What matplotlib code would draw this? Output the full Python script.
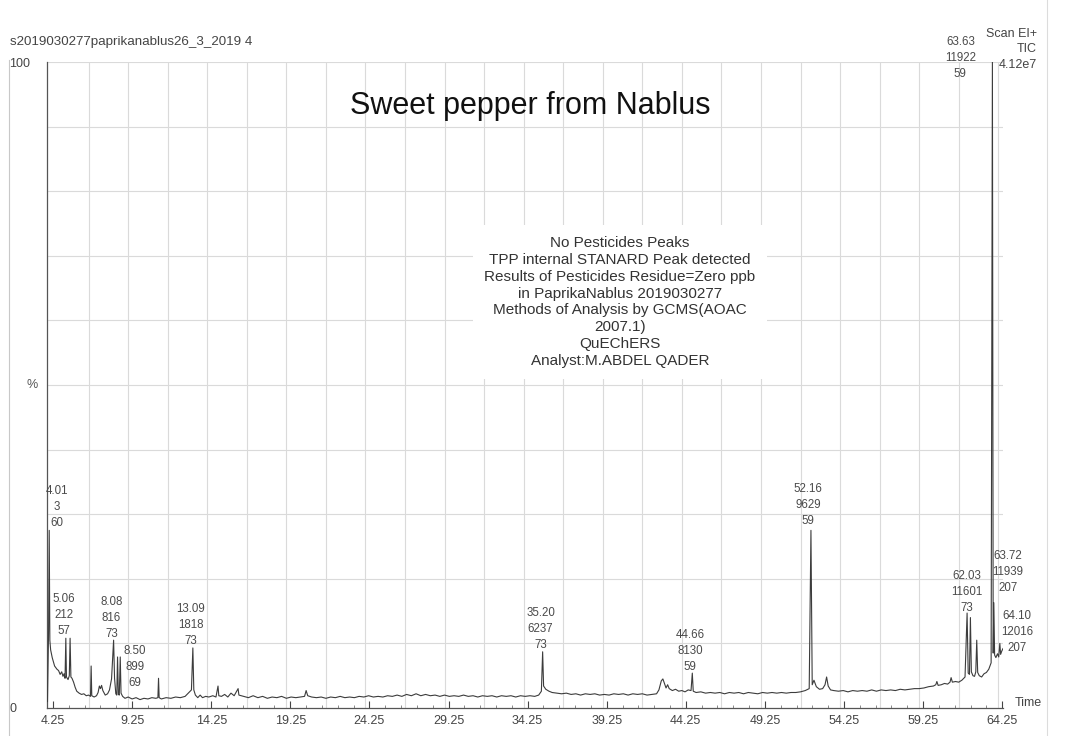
import matplotlib
matplotlib.use("Agg")
import matplotlib.pyplot as plt
from matplotlib.lines import Line2D
import numpy as np

plt.rcParams['font.family'] = ['Liberation Sans', 'DejaVu Sans']

# ---------------- data ----------------
trace_time = [
    3.90, 3.97, 4.01, 4.05, 4.10, 4.20, 4.35, 4.50, 4.60, 4.70, 4.80, 4.88, 4.95, 5.01,
    5.06, 5.10, 5.20, 5.28, 5.33, 5.38, 5.45, 5.55, 5.65, 5.75, 5.90, 6.05, 6.20, 6.35,
    6.50, 6.62, 6.66, 6.70, 6.85, 7.00, 7.10, 7.18, 7.25, 7.32, 7.40, 7.55, 7.70, 7.82,
    7.95, 8.08, 8.14, 8.22, 8.28, 8.33, 8.38, 8.44, 8.50, 8.55, 8.65, 8.80, 9.00, 9.25,
    9.50, 9.75, 10.00, 10.25, 10.50, 10.75, 10.88, 10.92, 10.96, 11.10, 11.40, 11.70,
    12.00, 12.30, 12.60, 12.80, 13.00, 13.09, 13.15, 13.25, 13.40, 13.55, 13.70, 13.90,
    14.10, 14.35, 14.55, 14.68, 14.73, 14.90, 15.10, 15.30, 15.50, 15.70, 15.95, 16.00,
    16.30, 16.60, 16.90, 17.20, 17.50, 17.80, 18.10, 18.40, 18.70, 19.00, 19.30, 19.60,
    19.90, 20.15, 20.25, 20.35, 20.60, 20.90, 21.20, 21.50, 21.80, 22.10, 22.40, 22.70,
    23.00, 23.30, 23.60, 23.90, 24.20, 24.50, 24.80, 25.10, 25.40, 25.70, 26.00, 26.30,
    26.60, 26.90, 27.20, 27.50, 27.80, 28.10, 28.40, 28.70, 29.00, 29.30, 29.60, 29.90,
    30.20, 30.50, 30.80, 31.10, 31.40, 31.70, 32.00, 32.30, 32.60, 32.90, 33.20, 33.50,
    33.80, 34.10, 34.40, 34.70, 34.95, 35.12, 35.20, 35.26, 35.40, 35.60, 35.80, 36.10,
    36.40, 36.70, 37.00, 37.30, 37.60, 37.90, 38.20, 38.50, 38.80, 39.10, 39.40, 39.70,
    40.00, 40.30, 40.60, 40.90, 41.20, 41.50, 41.80, 42.10, 42.40, 42.55, 42.70, 42.80,
    42.90, 43.00, 43.10, 43.20, 43.40, 43.60, 43.80, 44.00, 44.20, 44.40, 44.58, 44.66,
    44.72, 44.90, 45.20, 45.50, 45.80, 46.10, 46.40, 46.70, 47.00, 47.30, 47.60, 47.90,
    48.20, 48.50, 48.80, 49.10, 49.40, 49.70, 50.00, 50.30, 50.60, 50.90, 51.20, 51.50,
    51.80, 52.05, 52.16, 52.24, 52.35, 52.50, 52.70, 52.90, 53.05, 53.15, 53.25, 53.40,
    53.60, 53.90, 54.20, 54.50, 54.80, 55.10, 55.40, 55.70, 56.00, 56.30, 56.60, 56.90,
    57.20, 57.50, 57.80, 58.10, 58.40, 58.70, 59.00, 59.30, 59.60, 59.90, 60.05, 60.12,
    60.20, 60.40, 60.60, 60.80, 60.95, 61.02, 61.10, 61.30, 61.50, 61.70, 61.90, 62.03,
    62.10, 62.18, 62.24, 62.30, 62.40, 62.50, 62.58, 62.64, 62.70, 62.80, 62.95, 63.10,
    63.25, 63.40, 63.55, 63.63, 63.68, 63.72, 63.77, 63.85, 63.95, 64.03, 64.10, 64.15,
    64.22, 64.30,
]
trace_pct = [
    1.0, 12.0, 27.5, 10.5, 9.0, 7.8, 6.5, 6.0, 5.8, 5.2, 5.6, 4.9, 5.3, 4.6,
    10.8, 4.8, 4.4, 5.0, 10.8, 4.8, 4.6, 4.0, 3.2, 2.6, 2.3, 2.1, 2.2, 1.9,
    2.0, 1.8, 6.5, 1.9, 1.7, 1.9, 2.4, 3.4, 3.0, 3.5, 2.7, 2.0, 2.2, 2.8,
    4.5, 10.5, 4.6, 2.2, 2.0, 7.9, 2.1, 2.0, 7.9, 2.3, 1.8, 1.5, 1.7, 1.4,
    1.6, 1.3, 1.5, 1.4, 1.6, 1.5, 1.6, 4.6, 1.6, 1.4, 1.6, 1.5,
    1.7, 1.6, 1.8, 2.3, 2.8, 9.3, 2.8, 2.0, 1.6, 2.0, 1.6, 1.8,
    1.7, 1.9, 1.7, 3.4, 1.9, 1.8, 2.1, 1.7, 2.3, 1.9, 3.0, 2.0,
    1.8, 1.6, 1.9, 1.6, 1.8, 1.5, 1.7, 1.6, 1.8, 1.5, 1.7, 1.6,
    1.7, 1.8, 2.7, 1.9, 1.7, 1.6, 1.7, 1.5, 1.7, 1.6, 1.8, 1.6,
    1.7, 1.6, 1.8, 1.7, 1.9, 1.7, 1.8, 1.7, 1.9, 1.8, 2.0, 1.8,
    2.1, 1.9, 2.2, 1.9, 2.1, 1.9, 2.0, 1.8, 2.0, 1.8, 1.9, 1.8,
    2.0, 1.8, 1.9, 1.7, 1.9, 1.8, 1.9, 1.7, 1.9, 1.8, 1.9, 1.7,
    1.9, 1.8, 1.9, 1.8, 2.0, 2.6, 8.7, 3.4, 2.9, 2.6, 2.4, 2.3,
    2.2, 2.3, 2.1, 2.2, 2.0, 2.2, 2.1, 2.2, 2.0, 2.1, 2.0, 2.2,
    2.1, 2.2, 2.0, 2.2, 2.1, 2.2, 2.0, 2.1, 2.2, 2.8, 4.2, 4.5,
    3.8, 3.1, 3.6, 3.0, 2.7, 2.9, 2.6, 2.7, 2.5, 2.8, 2.7, 5.4,
    2.6, 2.4, 2.5, 2.3, 2.4, 2.3, 2.4, 2.2, 2.4, 2.3, 2.4, 2.2,
    2.4, 2.3, 2.2, 2.4, 2.3, 2.4, 2.3, 2.4, 2.3, 2.4, 2.4, 2.5,
    2.7, 3.0, 27.5, 3.6, 4.3, 3.3, 2.9, 3.0, 3.6, 4.8, 3.4, 2.8,
    2.7, 2.6, 2.7, 2.5, 2.7, 2.6, 2.7, 2.6, 2.8, 2.6, 2.8, 2.7,
    2.8, 2.7, 2.9, 2.8, 2.9, 3.0, 3.0, 3.1, 3.3, 3.4, 3.6, 4.1,
    3.5, 3.6, 3.8, 3.7, 4.0, 4.7, 4.0, 4.1, 4.0, 4.3, 4.8, 14.7,
    5.4, 5.2, 14.0, 5.6, 5.0, 4.9, 5.6, 10.5, 5.5, 5.0, 4.8, 5.3,
    5.5, 6.0, 7.0, 100.0, 8.5, 16.3, 8.2, 7.8, 8.4, 7.9, 10.0, 8.3,
    8.8, 9.2,
]

# labelled peaks: retention time, height (%), label text
peak_times = [4.01, 5.06, 8.08, 8.50, 13.09, 35.20, 44.66, 52.16, 62.03, 63.63, 63.72, 64.10]
peak_heights = [27.5, 10.8, 10.5, 7.9, 9.3, 8.7, 5.4, 27.5, 14.7, 100.0, 16.3, 10.0]
peak_labels = [
    "4.01\n3\n60", "5.06\n212\n57", "8.08\n816\n73", "8.50\n899\n69",
    "13.09\n1818\n73", "35.20\n6237\n73", "44.66\n8130\n59", "52.16\n9629\n59",
    "62.03\n11601\n73", "63.63\n11922\n59", "63.72\n11939\n207", "64.10\n12016\n207",
]
# label offsets (pixels: dx right, dy up) from each peak apex
label_offsets_px = [(8, 1), (-2, 1), (-2, 0), (15, -32), (-2, 1), (-2, 1), (-2, 0),
                    (-3, 3), (0, -1), (-32, -18), (14, 9), (17, -11)]

x_ticks = [4.25, 9.25, 14.25, 19.25, 24.25, 29.25, 34.25, 39.25, 44.25, 49.25, 54.25, 59.25, 64.25]
x_tick_labels = ["4.25", "9.25", "14.25", "19.25", "24.25", "29.25", "34.25",
                 "39.25", "44.25", "49.25", "54.25", "59.25", "64.25"]
y_ticks = [0, 100]
y_tick_labels = ["0", "100"]

header = "s2019030277paprikanablus26_3_2019 4"
title = "Sweet pepper from Nablus"
scan_info = "Scan EI+\nTIC\n4.12e7"
note = ("No Pesticides Peaks\nTPP internal STANARD Peak detected\n"
        "Results of Pesticides Residue=Zero ppb\nin PaprikaNablus 2019030277\n"
        "Methods of Analysis by GCMS(AOAC\n2007.1)\nQuEChERS\nAnalyst:M.ABDEL QADER")

# ---------------- figure ----------------
W, H = 1065, 736
fig = plt.figure(figsize=(W / 100, H / 100), dpi=100)
fig.patch.set_facecolor("white")

ax_l, ax_r, ax_b, ax_t = 47, 1003, 708, 62
ax = fig.add_axes([ax_l / W, 1 - ax_b / H, (ax_r - ax_l) / W, (ax_b - ax_t) / H])
ax.set_xlim(3.87, 64.30)
ax.set_ylim(0, 100)

# paper grid
grid_c = "#dadada"
for gx in np.arange(6.5, 64.3, 2.5):
    ax.axvline(gx, color=grid_c, lw=0.8, zorder=0)
for gy in np.arange(10, 101, 10):
    ax.axhline(gy, color=grid_c, lw=0.8, zorder=0)

ax.plot(trace_time, trace_pct, color="#3c3c3c", lw=0.8, zorder=3)

for sp in ["top", "right"]:
    ax.spines[sp].set_visible(False)
ax.spines["left"].set_color("#555555")
ax.spines["bottom"].set_color("#555555")
ax.spines["left"].set_linewidth(0.9)
ax.spines["bottom"].set_linewidth(0.9)

ax.set_xticks(x_ticks)
ax.set_xticklabels(x_tick_labels)
ax.set_xticks(np.arange(5.25, 64.3, 1.0), minor=True)
ax.tick_params(axis="x", which="major", direction="in", length=5, pad=5,
               labelsize=9, colors="#444444")
ax.tick_params(axis="x", which="minor", direction="in", length=2.5, color="#777777")
ax.set_yticks(y_ticks)
ax.set_yticklabels(y_tick_labels)
ax.tick_params(axis="y", direction="in", length=0, pad=27, labelsize=9, colors="#444444")
for lab in ax.get_yticklabels():
    lab.set_horizontalalignment("left")

# peak labels
for t, h, txt, (dx, dy) in zip(peak_times, peak_heights, peak_labels, label_offsets_px):
    ax.annotate(txt, xy=(t, h), xytext=(dx * 0.72, dy * 0.72), textcoords="offset points",
                ha="center", va="bottom", fontsize=8.3, color="#4a4a4a",
                linespacing=1.45, zorder=5, annotation_clip=False)

# axis texts
ax.text(-15 / (ax_r - ax_l), 50, "%", transform=ax.get_yaxis_transform(),
        ha="center", va="center", fontsize=9, color="#555555")
ax.text(1.012, 0.8, "Time", transform=ax.get_yaxis_transform(),
        ha="left", va="center", fontsize=9, color="#444444", clip_on=False)

fig.text(10 / W, 1 - 42 / H, header, ha="left", va="center", fontsize=9.6, color="#444444")
fig.text(1037 / W, 1 - 28 / H, scan_info, ha="right", va="top", fontsize=9,
         color="#444444", multialignment="right", linespacing=1.38)
fig.text(530 / W, 1 - 106 / H, title, ha="center", va="center", fontsize=22, color="#111111")
fig.text(620 / W, 1 - 302 / H, note, ha="center", va="center", fontsize=11,
         color="#333333", linespacing=1.25,
         bbox=dict(facecolor="white", edgecolor="none", pad=8))

# scanned page edges
fig.add_artist(Line2D([9 / W, 9 / W], [0, 1 - 60 / H], transform=fig.transFigure,
                      color="#c8c8c8", lw=0.8))
fig.add_artist(Line2D([1047 / W, 1047 / W], [0, 1], transform=fig.transFigure,
                      color="#dcdcdc", lw=0.8))

fig.savefig("out.png", dpi=100, facecolor="white")
